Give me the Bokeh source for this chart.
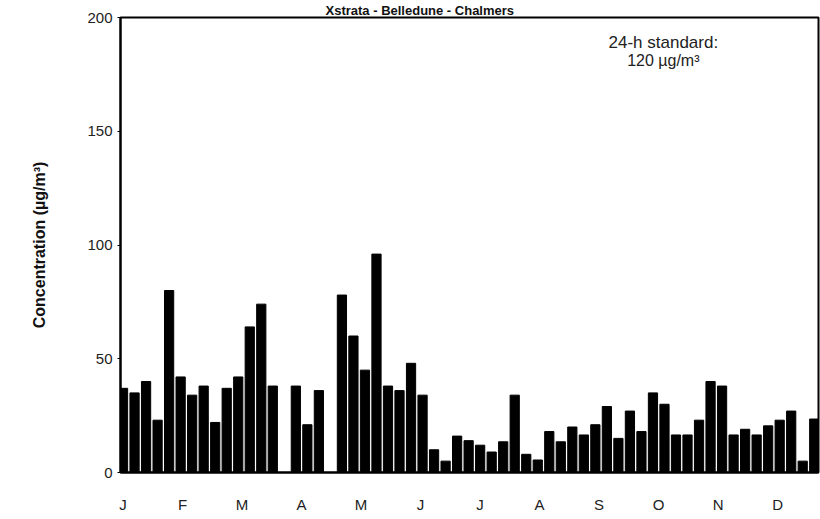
import math
from bokeh.plotting import figure
from bokeh.models import FixedTicker, Label, ColumnDataSource, Range1d
from bokeh.embed import file_html
from bokeh.resources import INLINE

# ---- data (one sample every 6 days, NaN = no sample) ----
nan = float("nan")
sample_index = list(range(61))
concentration = [37, 35, 40, 23, 80, 42, 34, 38, 22, 37,
                 42, 64, 74, 38, nan, 38, 21, 36, nan, 78,
                 60, 45, 96, 38, 36, 48, 34, 10, 5, 16,
                 14, 12, 9, 13.5, 34, 8, 5.5, 18, 13.5, 20,
                 16.5, 21, 29, 15, 27, 18, 35, 30, 16.5, 16.5,
                 23, 40, 38, 16.5, 19, 16.5, 20.5, 23, 27, 5,
                 23.5]
month_labels = ["J", "F", "M", "A", "M", "J", "J", "A", "S", "O", "N", "D"]
y_ticks = [0, 50, 100, 150, 200]
title_text = "Xstrata - Belledune - Chalmers"
y_label = "Concentration (\u00b5g/m\u00b3)"
note_line1 = "24-h standard:"
note_line2 = "120 \u00b5g/m\u00b3"

FONT = "Liberation Sans"

p = figure(width=820, height=519, output_backend="svg", toolbar_location=None,
           x_range=Range1d(-0.22, 60.37), y_range=Range1d(0, 200))
p.min_border_left = 120
p.min_border_right = 2
p.min_border_top = 0
p.min_border_bottom = 47

# title squeezed into the strip above the frame
p.title.text = title_text
p.title.text_font = FONT
p.title.text_font_style = "bold"
p.title.text_font_size = "13px"
p.title.text_color = "#111111"
p.title.align = "left"
p.title.offset = 205
p.title.standoff = 0

src = ColumnDataSource(dict(x=sample_index, top=concentration))
p.vbar(x="x", top="top", bottom=0, width=0.8, source=src,
       fill_color="black", line_color="black")

p.grid.visible = False
p.background_fill_color = "white"
p.outline_line_color = "black"
p.outline_line_width = 2

# x axis
month_step = 5.165
p.xaxis.ticker = FixedTicker(ticks=[k * month_step for k in range(12)])
p.xaxis.major_label_overrides = {k * month_step: m for k, m in enumerate(month_labels)}
p.xaxis.major_tick_line_color = None
p.xaxis.minor_tick_line_color = None
p.xaxis.axis_line_color = "black"
p.xaxis.axis_line_width = 2
p.xaxis.major_label_standoff = 17
p.xaxis.major_label_text_font = FONT
p.xaxis.major_label_text_font_size = "15px"
p.xaxis.major_label_text_color = "#222222"

# y axis
p.yaxis.ticker = FixedTicker(ticks=y_ticks)
p.yaxis.minor_tick_line_color = None
p.yaxis.major_tick_in = 0
p.yaxis.major_tick_out = 3
p.yaxis.major_tick_line_color = "black"
p.yaxis.axis_line_color = "black"
p.yaxis.axis_line_width = 2
p.yaxis.major_label_standoff = 5
p.yaxis.major_label_text_font = FONT
p.yaxis.major_label_text_font_size = "15px"
p.yaxis.major_label_text_color = "#222222"
p.yaxis.axis_label = y_label
p.yaxis.axis_label_text_font = FONT
p.yaxis.axis_label_text_font_style = "bold"
p.yaxis.axis_label_text_font_size = "16px"
p.yaxis.axis_label_text_color = "#111111"
p.yaxis.axis_label_standoff = 36

# annotation
note_x = 46.9
p.add_layout(Label(x=note_x, y=189.0, text=note_line1, text_align="center",
                   text_baseline="middle", text_font=FONT, text_font_size="17px",
                   text_color="#222222"))
p.add_layout(Label(x=note_x, y=181.0, text=note_line2, text_align="center",
                   text_baseline="middle", text_font=FONT, text_font_size="16px",
                   text_color="#222222"))

open("out.html", "w").write(file_html(p, INLINE))
